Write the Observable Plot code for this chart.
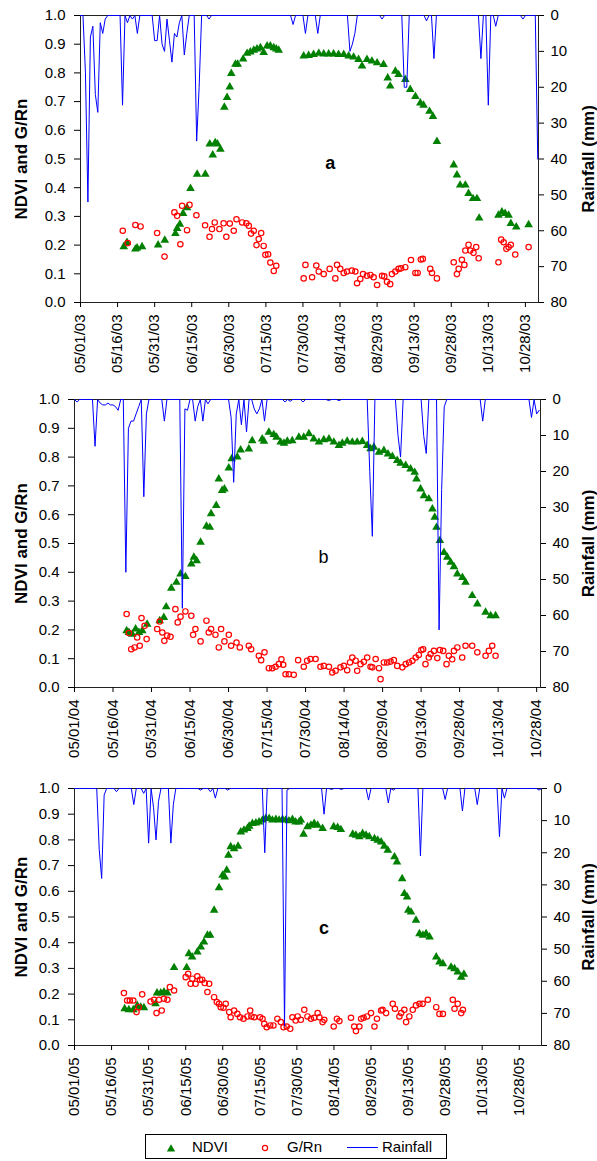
<!DOCTYPE html>
<html><head><meta charset="utf-8">
<script src="https://cdn.jsdelivr.net/npm/d3@7"></script>
<script src="https://cdn.jsdelivr.net/npm/@observablehq/plot@0.6"></script>
<style>
body{margin:0;background:#fff;}
#wrap{position:relative;width:597px;height:1161px;font-family:"Liberation Sans",Arial,sans-serif;background:#fff;}
.panel{position:absolute;left:0;}
#legend{position:absolute;left:145px;top:1134px;width:300px;height:23px;border:1px solid #000;font-size:15px;color:#000;}
#legend span{position:absolute;top:3px;}
#legend svg{position:absolute;top:0;}
</style></head><body><div id="wrap"></div>
<script>
// ---------- data (x = days since May 1 of each year) ----------
const tickDays = [0,15,30,45,60,75,90,105,120,135,150,165,180];
const labelsA = ["05/01/03","05/16/03","05/31/03","06/15/03","06/30/03","07/15/03","07/30/03","08/14/03","08/29/03","09/13/03","09/28/03","10/13/03","10/28/03"];
const labelsB = ["05/01/04","05/16/04","05/31/04","06/15/04","06/30/04","07/15/04","07/30/04","08/14/04","08/29/04","09/13/04","09/28/04","10/13/04","10/28/04"];
const labelsC = ["05/01/05","05/16/05","05/31/05","06/15/05","06/30/05","07/15/05","07/30/05","08/14/05","08/29/05","09/13/05","09/28/05","10/13/05","10/28/05"];
const leftTicks = [0,0.1,0.2,0.3,0.4,0.5,0.6,0.7,0.8,0.9,1.0];
const rainTicks = [0,10,20,30,40,50,60,70,80];
const rainMax = 80;

const ndviA = [[17.5,0.194],[18.8,0.209],[22.2,0.186],[22.9,0.19],[24.9,0.194],[31.4,0.2],[34.1,0.217],[38.4,0.24],[39.1,0.258],[40.2,0.273],[41.5,0.31],[43.1,0.33],[44.5,0.397],[47.2,0.447],[50.5,0.447],[52.3,0.552],[53.5,0.514],[54.5,0.557],[55.4,0.552],[56.6,0.534],[58.2,0.68],[59.3,0.714],[60.4,0.751],[61,0.798],[62.7,0.83],[63.6,0.83],[65.8,0.848],[67.4,0.868],[68.7,0.873],[70.1,0.879],[71.4,0.883],[72.8,0.888],[74.1,0.871],[75.5,0.894],[76.8,0.894],[78.2,0.888],[79.2,0.883],[80.2,0.879],
[90.3,0.859],[92.3,0.861],[94.3,0.864],[96.4,0.868],[98.4,0.866],[100.4,0.866],[102.4,0.866],[104.4,0.864],[106.5,0.864],[108.5,0.859],[110.5,0.855],[112.5,0.847],[113.9,0.824],[115.9,0.847],[117.9,0.841],[120.0,0.835],[122.6,0.829],[124.3,0.782],[125.3,0.754],[127.4,0.806],[128.7,0.794],[131.4,0.777],[133.4,0.742],[135.5,0.718],[137.5,0.695],[138.8,0.687],[141.2,0.666],[142.6,0.648],[144.2,0.561],[151.0,0.479],[152.3,0.444],[153.6,0.409],[155.7,0.409],[157.0,0.38],[158.8,0.362],[160.4,0.362],[161.3,0.294],[169.1,0.304],[170.5,0.315],[171.8,0.31],[173.2,0.304],[174.1,0.275],[176.3,0.263],[181.3,0.271]];
const grA = [[17.1,0.25],[19.1,0.207],[22.2,0.27],[24.3,0.265],[31.0,0.242],[34.0,0.16],[38.0,0.314],[39.1,0.302],[40.4,0.203],[41.1,0.337],[43.1,0.252],[44.1,0.34],[46.9,0.304],[50.4,0.269],[52.2,0.229],[53.2,0.256],[54.3,0.279],[56.2,0.256],[57.9,0.276],[59.0,0.229],[60.4,0.275],[62.0,0.25],[63.1,0.29],[65.4,0.279],[67.1,0.276],[68.1,0.267],[69.0,0.24],[70.1,0.25],[71.2,0.2],[72.1,0.221],[73.1,0.242],[74.1,0.197],[74.8,0.166],[75.9,0.168],[76.8,0.139],[78.2,0.11],[79.2,0.128],
[90.3,0.084],[91.0,0.131],[93.7,0.088],[95.4,0.129],[96.4,0.108],[98.4,0.099],[100.8,0.117],[103.1,0.084],[103.8,0.131],[105.1,0.117],[106.5,0.103],[107.8,0.108],[109.8,0.111],[111.2,0.108],[111.9,0.067],[113.2,0.082],[114.3,0.099],[115.9,0.093],[117.3,0.096],[118.6,0.088],[120.0,0.061],[122.0,0.093],[122.9,0.091],[124.0,0.072],[125.3,0.064],[126.0,0.099],[127.4,0.108],[128.7,0.117],[129.7,0.119],[131.4,0.123],[133.7,0.148],[135.5,0.103],[136.4,0.103],[137.7,0.15],[138.5,0.152],[141.5,0.117],[142.2,0.103],[144.2,0.084],[151.0,0.14],[152.3,0.099],[153.0,0.117],[154.3,0.149],[155.3,0.131],[155.7,0.181],[157.0,0.201],[157.7,0.181],[159.0,0.173],[160.1,0.193],[161.1,0.154],[169.1,0.14],[170.2,0.219],[171.2,0.21],[172.3,0.187],[173.2,0.193],[174.1,0.201],[175.9,0.167],[181.3,0.193]];
const rainDaysA = [2,3,4,5,6,7,8,9,10,17,19,21,23,30,31,33,34,35,36,37,38,39,40,42,43,47,48,52,86,91,96,109,110,111,122,131,132,140,143,162,165,168,179,185];
const rainMmA   = [16,52,6,3,22,27,2,5,1,25,2,1,5,7,7,8,10,1,7,13,5,6,2,11,5,35,20,1,2.5,5,5,10,8,5,1,20,20,1.5,12,12,25,3,1,40];

const ndviB = [[20.3,0.197],[21.2,0.191],[22.5,0.185],[23.8,0.203],[25.1,0.191],[26.4,0.197],[28.3,0.22],[33.2,0.232],[34.8,0.243],[35.7,0.28],[37.7,0.345],[39.7,0.365],[41.3,0.394],[43.2,0.385],[45.5,0.429],[46.5,0.452],[47.6,0.44],[49.1,0.504],[51.4,0.56],[52.7,0.556],[53.2,0.603],[55.2,0.632],[56.2,0.724],[57.5,0.684],[58.4,0.689],[60.1,0.762],[61.2,0.794],[63.4,0.8],[64.7,0.825],[67.9,0.828],[69.2,0.857],[73.1,0.863],[73.8,0.855],[75.7,0.886],[77.6,0.878],[78.7,0.869],[80.3,0.852],[81.6,0.848],[82.9,0.855],[84.8,0.857],
[87.4,0.869],[89.3,0.869],[91.3,0.881],[93.2,0.863],[95.2,0.852],[97.1,0.86],[99.1,0.863],[101.0,0.852],[103.0,0.84],[104.3,0.848],[106.2,0.855],[108.2,0.852],[110.1,0.852],[112.1,0.854],[114.0,0.84],[115.3,0.829],[116.6,0.834],[118.6,0.817],[120.5,0.823],[122.1,0.811],[123.8,0.802],[125.7,0.788],[127.0,0.779],[129.0,0.771],[130.9,0.759],[132.5,0.747],[133.2,0.724],[134.8,0.689],[136.1,0.666],[138.0,0.655],[139.4,0.62],[140.3,0.591],[141.0,0.556],[142.3,0.51],[143.9,0.469],[145.2,0.452],[146.5,0.435],[147.8,0.419],[149.1,0.394],[151.1,0.382],[152.3,0.365],[154.9,0.319],[156.9,0.29],[160.1,0.261],[162.1,0.249],[164.0,0.249]];
const grB = [[20.3,0.255],[21.2,0.189],[22.1,0.133],[23.4,0.139],[24.4,0.174],[25.4,0.145],[26.1,0.241],[27.3,0.214],[28.1,0.168],[32.2,0.203],[33.2,0.229],[34.2,0.191],[35.0,0.162],[36.1,0.18],[37.4,0.176],[39.3,0.272],[40.2,0.226],[41.3,0.246],[43.2,0.264],[45.5,0.249],[46.2,0.183],[47.1,0.203],[49.1,0.16],[51.4,0.232],[52.3,0.191],[53.2,0.203],[54.9,0.183],[56.2,0.139],[57.1,0.203],[58.4,0.16],[60.1,0.183],[61.0,0.145],[63.1,0.156],[64.4,0.139],[67.9,0.145],[68.8,0.133],[71.8,0.11],[72.7,0.095],[74.0,0.122],[75.7,0.067],[77.0,0.067],[78.3,0.072],[79.6,0.081],[80.6,0.098],[81.3,0.079],[82.2,0.046],[83.5,0.046],[85.4,0.044],[87.1,0.095],
[89.3,0.072],[90.6,0.093],[91.9,0.099],[93.9,0.099],[95.8,0.072],[97.1,0.075],[99.1,0.072],[100.4,0.052],[101.7,0.058],[103.6,0.07],[104.9,0.075],[106.2,0.06],[107.3,0.087],[108.2,0.104],[109.5,0.093],[110.1,0.058],[111.4,0.081],[112.7,0.089],[114.0,0.104],[115.3,0.072],[116.0,0.07],[117.3,0.099],[118.6,0.067],[119.2,0.029],[120.5,0.087],[121.8,0.087],[123.1,0.09],[124.4,0.095],[125.7,0.075],[127.7,0.07],[129.0,0.081],[130.3,0.087],[131.6,0.093],[132.9,0.104],[134.1,0.113],[135.1,0.13],[135.8,0.133],[136.7,0.081],[138.0,0.104],[138.7,0.116],[140.0,0.127],[141.3,0.102],[142.3,0.13],[143.6,0.127],[144.9,0.081],[145.8,0.11],[147.1,0.098],[147.8,0.127],[149.1,0.139],[151.0,0.104],[152.3,0.145],[154.9,0.145],[156.9,0.122],[160.1,0.11],[161.4,0.127],[162.7,0.145],[164.0,0.11]];
const rainDaysB = [1,8,10,11,12,13,14,15,16,17,20,21,22,23,24,25,27,28,35,42,43,44,47,48,50,52,61,62,63,65,67,70,71,72,74,82,84,89,99,103,115,116,126,127,136,137,142,143,144,159,178,180,181];
const rainMmB   = [0.7,13,1,1.5,1.5,1,1.5,1.5,2,3,48,8,6,6,4,2,27,4,6,58,2.6,3,6,2,6,1.2,5,23,4,7,9,2.6,4,2.6,6,0.7,0.5,0.7,0.3,0.3,20,38,10,16,10,15,64,25,2,6,5,4,3];

const ndviC = [[20.3,0.143],[22.0,0.139],[23.8,0.139],[25.4,0.156],[26.8,0.149],[28.1,0.147],[32.8,0.162],[33.4,0.204],[34.9,0.204],[36.2,0.208],[37.6,0.204],[40.3,0.303],[45.4,0.303],[46.3,0.357],[47.6,0.344],[49.7,0.364],[51.1,0.383],[52.4,0.403],[53.8,0.429],[54.9,0.429],[56.5,0.526],[58.5,0.614],[59.9,0.662],[60.8,0.656],[61.6,0.682],[62.3,0.74],[63.2,0.773],[64.6,0.766],[66.2,0.775],[67.3,0.831],[68.6,0.838],[70.0,0.844],[70.7,0.853],[72.0,0.864],[73.4,0.866],[74.7,0.87],[76.1,0.877],[77.4,0.883],[78.8,0.883],[80.1,0.877],[81.5,0.879],[82.8,0.877],[84.2,0.879],[85.5,0.877],[86.8,0.874],[88.2,0.879],[89.5,0.87],[90.9,0.87],
[91.6,0.877],[92.7,0.822],[94.3,0.851],[95.7,0.857],[97.0,0.864],[98.4,0.857],[100.4,0.844],[104.9,0.851],[106.5,0.848],[107.8,0.84],[112.6,0.822],[113.9,0.818],[115.3,0.812],[116.6,0.825],[118.0,0.818],[119.3,0.812],[121.4,0.805],[122.7,0.799],[124.1,0.792],[125.4,0.775],[126.8,0.76],[129.5,0.734],[130.5,0.714],[132.6,0.649],[133.5,0.591],[134.6,0.578],[135.1,0.526],[136.2,0.519],[138.2,0.487],[139.6,0.435],[141.0,0.429],[142.3,0.435],[143.7,0.422],[146.4,0.344],[147.7,0.325],[149.1,0.318],[152.4,0.305],[153.8,0.299],[155.1,0.286],[156.5,0.266],[157.6,0.277]];
const grC = [[20.0,0.204],[21.3,0.175],[22.4,0.175],[23.8,0.175],[25.1,0.13],[26.0,0.149],[27.4,0.199],[30.8,0.171],[32.2,0.178],[33.2,0.126],[34.2,0.178],[35.3,0.136],[36.2,0.182],[37.6,0.178],[38.6,0.227],[40.3,0.214],[45.0,0.266],[46.0,0.279],[47.0,0.24],[47.7,0.26],[49.0,0.24],[49.7,0.269],[50.8,0.256],[51.7,0.256],[52.7,0.243],[53.8,0.208],[54.5,0.24],[56.5,0.188],[57.6,0.169],[58.5,0.162],[59.2,0.149],[60.3,0.147],[61.2,0.162],[62.6,0.13],[63.2,0.11],[64.6,0.136],[65.9,0.123],[67.0,0.11],[68.4,0.104],[70.0,0.113],[71.1,0.136],[71.6,0.113],[72.7,0.11],[75.1,0.11],[76.1,0.104],[76.8,0.084],[77.8,0.071],[79.2,0.078],[80.5,0.078],[82.1,0.104],[83.5,0.091],[84.6,0.071],[85.9,0.074],[87.3,0.065],[88.2,0.11],[89.5,0.097],
[90.3,0.113],[91.6,0.1],[93.0,0.139],[94.3,0.113],[95.7,0.104],[97.0,0.108],[98.4,0.126],[99.1,0.11],[100.4,0.091],[101.1,0.1],[104.9,0.074],[106.2,0.104],[107.2,0.095],[111.9,0.108],[113.2,0.074],[113.9,0.056],[115.3,0.074],[116.0,0.104],[117.0,0.108],[118.4,0.113],[120.0,0.126],[121.4,0.074],[122.4,0.104],[124.1,0.136],[124.7,0.139],[126.1,0.126],[128.8,0.162],[129.7,0.143],[131.5,0.113],[132.2,0.126],[133.5,0.139],[134.2,0.091],[135.5,0.113],[136.9,0.139],[138.2,0.156],[139.6,0.162],[140.9,0.162],[143.0,0.178],[146.4,0.149],[147.7,0.123],[149.1,0.123],[153.1,0.178],[153.8,0.143],[155.1,0.162],[156.5,0.126],[157.2,0.139]];
const rainDaysC = [10,11,12,17,24,28,30,32,33,34,39,40,51,55,57,62,77,85,86,101,104,108,119,127,129,140,150,157,163,172,174,188];
const rainMmC   = [19,28,2,1,5,1.5,17,6,16,4,17,5,0.5,1,3,0.5,20,74,0.5,8,0.3,0.3,3.6,4.5,0.5,21,3.4,7,5,15,3,0.5];

const yTitle = "NDVI and G/Rn";
const rTitle = "Rainfall (mm)";
const seriesNames = ["NDVI","G/Rn","Rainfall"];
const colors = {ndvi:"#008000", gr:"#ff0000", rain:"#0000ff"};

// ---------- helpers ----------
function dailyRain(days, mm, end){
  const m = new Map(days.map((d,i)=>[d,mm[i]]));
  const out = [];
  for(let d=0; d<=Math.floor(end); d++) out.push({day:d, rain: m.has(d)?m.get(d):0});
  return out;
}
const FONT = "'Liberation Sans', Arial, sans-serif";
function panel(o){
  const rain = dailyRain(o.rainDays, o.rainMm, o.end);
  const chart = Plot.plot({
    width: 597, height: o.height,
    marginTop: o.mt, marginBottom: o.mb, marginLeft: o.ml, marginRight: o.mr,
    style: {fontFamily: FONT, fontSize: "15px", color: "#000", background: "#fff", overflow: "visible"},
    x: {domain: [0, o.end]},
    y: {domain: [0, 1]},
    marks: [
      Plot.frame({stroke: "#222"}),
      Plot.axisY({ticks: leftTicks, tickFormat: d => d.toFixed(1), tickSize: 6, tickPadding: 9, label: null}),
      Plot.axisY({anchor: "right", ticks: rainTicks.map(v => 1 - v/rainMax), tickFormat: d => String(Math.round((1-d)*rainMax)), tickSize: 5, tickPadding: 7, label: null}),
      Plot.axisX({ticks: tickDays, tickFormat: d => o.labels[Math.round(d/15)], tickRotate: -90, tickSize: 5, tickPadding: 7, label: null}),
      Plot.dot(o.ndvi, {x: d => d[0], y: d => d[1], symbol: "triangle", r: 3.2, fill: colors.ndvi, stroke: "none"}),
      Plot.dot(o.gr, {x: d => d[0], y: d => d[1], r: 2.7, stroke: colors.gr, fill: "none", strokeWidth: 1.2}),
      Plot.line(rain, {x: "day", y: d => 1 - d.rain/rainMax, stroke: colors.rain, strokeWidth: 1}),
      Plot.text([o.letter], {x: o.letterX, y: o.letterY, text: d => d, fontSize: 18, fontWeight: o.letterBold ? "bold" : "normal", fill: "#000"}),
      Plot.text([yTitle], {frameAnchor: "left", textAnchor: "middle", dx: o.titleDx, rotate: -90, text: d => d, fontSize: 17, fontWeight: "bold", fill: "#000"}),
      Plot.text([rTitle], {frameAnchor: "right", textAnchor: "middle", dx: o.rTitleDx, rotate: -90, text: d => d, fontSize: 17, fontWeight: "bold", fill: "#000"})
    ]
  });
  chart.classList.add("panel");
  chart.style.top = o.top + "px";
  chart.style.position = "absolute";
  return chart;
}

const wrap = document.getElementById("wrap");
wrap.appendChild(panel({ndvi: ndviA, gr: grA, rainDays: rainDaysA, rainMm: rainMmA, end: 185.3, labels: labelsA,
  letter: "a", letterX: 101, letterY: 0.485, letterBold: true,
  top: 0, height: 380, mt: 15, mb: 78, ml: 80, mr: 59, titleDx: -59, rTitleDx: 50}));
wrap.appendChild(panel({ndvi: ndviB, gr: grB, rainDays: rainDaysB, rainMm: rainMmB, end: 181.5, labels: labelsB,
  letter: "b", letterX: 97, letterY: 0.452, letterBold: false,
  top: 380, height: 390, mt: 19, mb: 83, ml: 74, mr: 57, titleDx: -53, rTitleDx: 48}));
wrap.appendChild(panel({ndvi: ndviC, gr: grC, rainDays: rainDaysC, rainMm: rainMmC, end: 189, labels: labelsC,
  letter: "c", letterX: 101, letterY: 0.455, letterBold: true,
  top: 770, height: 355, mt: 18, mb: 80, ml: 74, mr: 56, titleDx: -53, rTitleDx: 47}));

// ---------- legend ----------
const lg = document.createElement("div");
lg.id = "legend";
lg.innerHTML =
  `<svg width="12" height="25" style="left:19px"><path d="${d3.symbol(d3.symbolTriangle, 30)()}" transform="translate(6,14)" fill="${colors.ndvi}"/></svg>` +
  `<span style="left:46px">${seriesNames[0]}</span>` +
  `<svg width="12" height="25" style="left:113px"><circle cx="6" cy="13" r="2.6" fill="none" stroke="${colors.gr}" stroke-width="1.2"/></svg>` +
  `<span style="left:141px">${seriesNames[1]}</span>` +
  `<svg width="32" height="25" style="left:201px"><line x1="0" x2="31" y1="12.5" y2="12.5" stroke="${colors.rain}" stroke-width="1"/></svg>` +
  `<span style="left:236px">${seriesNames[2]}</span>`;
wrap.appendChild(lg);
</script></body></html>
